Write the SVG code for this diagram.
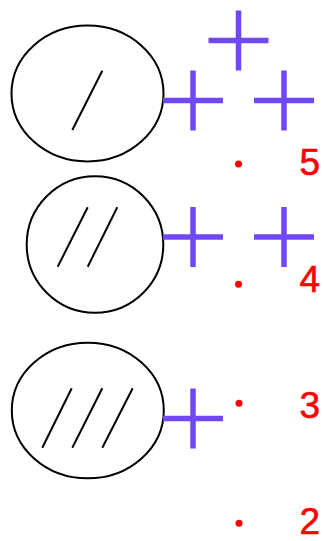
<svg xmlns="http://www.w3.org/2000/svg" width="324" height="541" viewBox="0 0 324 541">
<defs>
<style>
.ell{fill:none;stroke:#000;stroke-width:2}
.sl{stroke:#000;stroke-width:2;stroke-linecap:butt}
.cr{stroke:#7048f8;stroke-width:5.5;fill:none}
.dot{fill:#ff0000}
.num{fill:#ff0000;stroke:#ff0000;stroke-width:0.6;font-family:"Liberation Sans",Arial,sans-serif;font-size:37px}
</style>
<path id="plus" class="cr" d="M-30 0H30M0 -30V30"/>
</defs>
<rect width="324" height="541" fill="#fff"/>
<g id="node-one">
<ellipse class="ell" cx="87.5" cy="93.5" rx="76" ry="68"/>
<line class="sl" x1="102.3" y1="70.7" x2="72.3" y2="130"/>
</g>
<g id="node-two">
<ellipse class="ell" cx="95" cy="244.5" rx="68.3" ry="68.3"/>
<line class="sl" x1="87.7" y1="207.3" x2="57.7" y2="266.7"/>
<line class="sl" x1="117.3" y1="207.3" x2="87.7" y2="266.7"/>
</g>
<g id="node-three">
<ellipse class="ell" cx="87.8" cy="410.5" rx="76" ry="67.8"/>
<line class="sl" x1="71.7" y1="388.3" x2="42.3" y2="447.7"/>
<line class="sl" x1="102.3" y1="388.3" x2="72.3" y2="447.7"/>
<line class="sl" x1="132.7" y1="388.3" x2="102.3" y2="447.7"/>
</g>
<g id="crosses">
<use href="#plus" x="238.5" y="40.5"/>
<use href="#plus" x="193" y="100.5"/>
<use href="#plus" x="284" y="100.5"/>
<use href="#plus" x="193" y="237"/>
<use href="#plus" x="284" y="237"/>
<use href="#plus" x="193" y="418.5"/>
</g>
<g id="levels">
<circle class="dot" cx="238.5" cy="164" r="3.5"/>
<text class="num" x="299.5" y="175">5</text>
<circle class="dot" cx="238.5" cy="284.3" r="3.5"/>
<text class="num" x="299.5" y="292">4</text>
<circle class="dot" cx="239" cy="403.3" r="3.5"/>
<text class="num" x="299.5" y="418">3</text>
<circle class="dot" cx="239" cy="523.3" r="3.5"/>
<text class="num" x="299.5" y="534">2</text>
</g>
</svg>
